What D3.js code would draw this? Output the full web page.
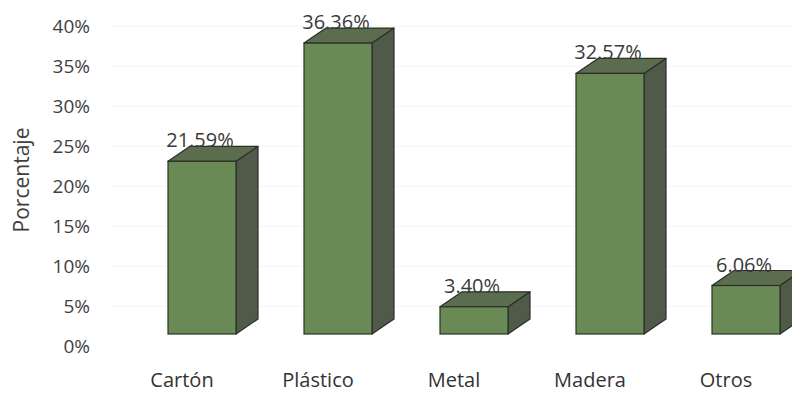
<!DOCTYPE html>
<html>
<head>
<meta charset="utf-8">
<script src="https://cdn.jsdelivr.net/npm/d3@7"></script>
<style>
  html, body { margin: 0; padding: 0; background: #fff; }
  svg { display: block; font-family: "Open Sans", "Noto Sans", sans-serif; }
</style>
</head>
<body>
<svg id="chart" width="792" height="396"></svg>
<script>
// Material shares (percent)
const categories = ["Cartón", "Plástico", "Metal", "Madera", "Otros"];
const values = [21.59, 36.36, 3.40, 32.57, 6.06];
const valueLabels = ["21.59%", "36.36%", "3.40%", "32.57%", "6.06%"];
const tickValues = [0, 5, 10, 15, 20, 25, 30, 35, 40];
const tickLabels = ["0%", "5%", "10%", "15%", "20%", "25%", "30%", "35%", "40%"];

const svg = d3.select("#chart");

// front plane scales
const x = d3.scaleBand().domain(categories).range([134, 814])
  .paddingInner(0.5).paddingOuter(0.25);
const y = d3.scaleLinear().domain([0, 40]).range([334, 14]);

// 3D depth offset of each column
const dx = 22, dy = -15;
const axisShift = 12; // axis labels sit on the floor edge, below the front plane

// faint back-wall gridlines
svg.append("g").selectAll("line").data(tickValues.slice(1)).join("line")
  .attr("x1", 110).attr("x2", 792)
  .attr("y1", d => y(d) + axisShift).attr("y2", d => y(d) + axisShift)
  .attr("stroke", "#f4f4f4").attr("stroke-width", 1);

// y-axis tick labels
const yAxis = d3.axisLeft(d3.scaleLinear().domain([0, 40]).range([334 + axisShift, 14 + axisShift]))
  .tickValues(tickValues)
  .tickFormat((d, i) => tickLabels[i])
  .tickSize(0).tickPadding(0);
const gy = svg.append("g").attr("transform", "translate(90,0)").call(yAxis);
gy.select(".domain").remove();
gy.selectAll("text").attr("font-size", 19).attr("fill", "#3f3f3f")
  .attr("font-family", "'Open Sans', sans-serif");

// y-axis title
svg.append("text")
  .attr("transform", "translate(29,180) rotate(-90)")
  .attr("text-anchor", "middle")
  .attr("font-size", 21).attr("fill", "#3f3f3f")
  .text("Porcentaje");

// 3D columns
const bars = svg.append("g").selectAll("g").data(categories).join("g");
const stroke = "#2b2f28";

bars.each(function(c, i) {
  const g = d3.select(this);
  const x0 = x(c), x1 = x(c) + x.bandwidth();
  const yt = y(values[i]), yb = y(0);
  // right side face
  g.append("path")
    .attr("d", `M${x1},${yt} L${x1 + dx},${yt + dy} L${x1 + dx},${yb + dy} L${x1},${yb} Z`)
    .attr("fill", "#4f5a48").attr("stroke", stroke).attr("stroke-width", 1.2)
    .attr("stroke-linejoin", "round");
  // top face
  g.append("path")
    .attr("d", `M${x0},${yt} L${x0 + dx},${yt + dy} L${x1 + dx},${yt + dy} L${x1},${yt} Z`)
    .attr("fill", "#5b6c4f").attr("stroke", stroke).attr("stroke-width", 1.2)
    .attr("stroke-linejoin", "round");
  // front face
  g.append("rect")
    .attr("x", x0).attr("y", yt)
    .attr("width", x.bandwidth()).attr("height", yb - yt)
    .attr("fill", "#698a54").attr("stroke", stroke).attr("stroke-width", 1.2);
});

// value labels above each column
svg.append("g").selectAll("text").data(categories).join("text")
  .attr("x", c => x(c) + x.bandwidth() / 2 - 2)
  .attr("y", (c, i) => y(values[i]) + dy + 1)
  .attr("text-anchor", "middle")
  .attr("font-size", 20).attr("fill", "#3a3a3a")
  .text((c, i) => valueLabels[i]);

// category labels
svg.append("g").selectAll("text").data(categories).join("text")
  .attr("x", c => x(c) + x.bandwidth() / 2 - 20)
  .attr("y", 387)
  .attr("text-anchor", "middle")
  .attr("font-size", 20).attr("fill", "#333")
  .text(c => c);
</script>
</body>
</html>
